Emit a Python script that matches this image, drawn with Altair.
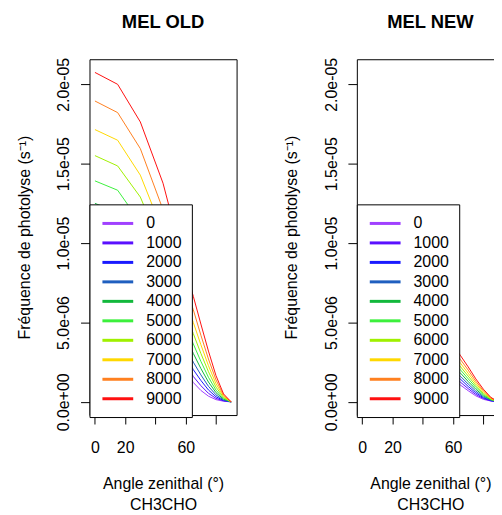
import altair as alt
import pandas as pd

# ---------------- data ----------------
angles = [0, 15, 30, 45, 60, 65, 70, 75, 80, 85, 90]
altitudes = ["0", "1000", "2000", "3000", "4000", "5000", "6000", "7000", "8000", "9000"]
colors = ["#A040FF", "#5A10FF", "#1A1AFF", "#1F5FBF", "#12B83C",
          "#3CF03C", "#A0F000", "#FFD800", "#FF8020", "#FF1010"]

# photolysis frequencies in units of 1e-6 s-1, one list per altitude
old_e6 = {
    "9000": [20.75, 20.0, 17.63, 13.77, 8.3, 6.65, 4.9, 3.2, 1.65, 0.5, 0.0],
    "8000": [18.95, 18.22, 15.95, 12.1, 7.3, 5.8, 4.2, 2.7, 1.38, 0.42, 0.0],
    "7000": [17.15, 16.48, 14.28, 10.7, 6.4, 5.0, 3.6, 2.28, 1.14, 0.35, 0.0],
    "6000": [15.51, 14.86, 12.9, 9.5, 5.6, 4.3, 3.05, 1.9, 0.93, 0.28, 0.0],
    "5000": [13.92, 13.33, 11.3, 8.4, 4.85, 3.65, 2.55, 1.55, 0.74, 0.22, 0.0],
    "4000": [12.5, 11.95, 10.1, 7.4, 4.15, 3.05, 2.1, 1.25, 0.58, 0.17, 0.0],
    "3000": [11.2, 10.7, 9.0, 6.55, 3.5, 2.5, 1.7, 0.98, 0.44, 0.12, 0.0],
    "2000": [10.0, 9.55, 8.0, 5.75, 2.95, 2.03, 1.35, 0.75, 0.32, 0.09, 0.0],
    "1000": [8.9, 8.5, 7.1, 5.05, 2.45, 1.6, 1.02, 0.54, 0.22, 0.06, 0.0],
    "0":    [7.9, 7.55, 6.3, 4.4, 2.0, 1.22, 0.72, 0.36, 0.14, 0.04, 0.0],
}
new_e6 = {
    "9000": [5.6, 5.4, 5.0, 4.4, 3.6, 2.9, 2.2, 1.45, 0.8, 0.28, 0.0],
    "8000": [5.2, 5.0, 4.65, 4.1, 3.3, 2.65, 2.0, 1.3, 0.7, 0.24, 0.0],
    "7000": [4.85, 4.65, 4.3, 3.8, 3.02, 2.42, 1.8, 1.17, 0.62, 0.21, 0.0],
    "6000": [4.5, 4.35, 4.0, 3.5, 2.75, 2.2, 1.62, 1.04, 0.54, 0.18, 0.0],
    "5000": [4.2, 4.05, 3.7, 3.25, 2.5, 2.0, 1.45, 0.92, 0.46, 0.15, 0.0],
    "4000": [3.9, 3.75, 3.45, 3.0, 2.27, 1.8, 1.28, 0.8, 0.39, 0.13, 0.0],
    "3000": [3.65, 3.5, 3.2, 2.75, 2.03, 1.6, 1.12, 0.68, 0.32, 0.1, 0.0],
    "2000": [3.4, 3.25, 2.95, 2.5, 1.8, 1.42, 0.97, 0.57, 0.26, 0.08, 0.0],
    "1000": [3.15, 3.0, 2.7, 2.27, 1.58, 1.23, 0.83, 0.47, 0.21, 0.06, 0.0],
    "0":    [2.9, 2.75, 2.45, 2.05, 1.38, 1.05, 0.7, 0.38, 0.16, 0.05, 0.0],
}

x_ticks = [0, 20, 40, 60, 80]
x_tick_labels = ["0", "20", "", "60", ""]
y_ticks = [0.0, 5e-6, 1e-5, 1.5e-5, 2e-5]
y_tick_labels = ["0.0e+00", "5.0e-06", "1.0e-05", "1.5e-05", "2.0e-05"]
titles = ["MEL OLD", "MEL NEW"]
x_title = ["Angle zenithal (°)", "CH3CHO"]
y_title = "Fréquence de photolyse (s⁻¹)"


def to_frame(d):
    rows = []
    for a in altitudes:
        for ang, v in zip(angles, d[a]):
            rows.append({"angle": ang, "J": v * 1e-6, "alt": a})
    return pd.DataFrame(rows)


df_old = to_frame(old_e6)
df_new = to_frame(new_e6)

ymax = max(max(v) for v in old_e6.values()) * 1e-6
ypad = 0.04 * ymax
y_domain = [-ypad, ymax + ypad]
x_domain = [min(angles) - 0.04 * (max(angles) - min(angles)),
            max(angles) + 0.04 * (max(angles) - min(angles))]

FONT = "Liberation Sans"
W, H = 148, 358

x_label_expr = "[" + ",".join("'%s'" % s for s in x_tick_labels) + "][round(datum.value/20)]"
y_label_expr = "[" + ",".join("'%s'" % s for s in y_tick_labels) + "][round(datum.value/5e-6)]"


def panel(df, title):
    return alt.Chart(df).mark_line(strokeWidth=1).encode(
        x=alt.X("angle:Q",
                scale=alt.Scale(domain=x_domain, nice=False, zero=False),
                axis=alt.Axis(values=x_ticks, labelExpr=x_label_expr, title=x_title,
                              labelBaseline="alphabetic", labelPadding=29,
                              labelFlush=False, labelOverlap=False,
                              titleX=W / 2, titleY=73.5, titleAlign="center",
                              titleBaseline="alphabetic", titleLineHeight=21.5)),
        y=alt.Y("J:Q",
                scale=alt.Scale(domain=y_domain, nice=False, zero=False),
                axis=alt.Axis(values=y_ticks, labelExpr=y_label_expr, title=y_title,
                              labelAngle=270, labelAlign="center",
                              labelBaseline="alphabetic", labelPadding=11.7,
                              labelOverlap=False,
                              titleAngle=270, titleX=-60.7, titleY=H / 2,
                              titleAlign="center", titleBaseline="alphabetic")),
        color=alt.Color("alt:N",
                        scale=alt.Scale(domain=altitudes, range=colors),
                        title=None,
                        legend=alt.Legend(orient="none", legendX=0, legendY=146,
                                          fillColor="white", strokeColor="black",
                                          padding=9.7, symbolType="M-2,0H2",
                                          symbolSize=240, symbolStrokeWidth=3,
                                          symbolOffset=9.3, labelOffset=19,
                                          labelFontSize=16, labelFont=FONT,
                                          labelColor="black", rowPadding=1.6,
                                          symbolOpacity=1)),
    ).properties(
        width=W, height=H,
        title=alt.TitleParams(title, fontSize=18.5, fontWeight="bold", font=FONT,
                              anchor="middle", offset=11, baseline="alphabetic",
                              color="black"),
    )


chart = alt.hconcat(panel(df_old, titles[0]), panel(df_new, titles[1]), spacing=45).resolve_legend(
    color="independent"
).configure_view(stroke="black", strokeWidth=1).configure_axis(
    domain=False, grid=False, tickColor="black", tickWidth=1, tickSize=9,
    labelFont=FONT, labelFontSize=16, labelColor="black",
    titleFont=FONT, titleFontSize=16, titleFontWeight="normal", titleColor="black",
).properties(background="white", padding={"left": 7, "top": 3, "right": -11, "bottom": 0})

chart.save("out.html", embed_options={"renderer": "svg", "actions": False})
